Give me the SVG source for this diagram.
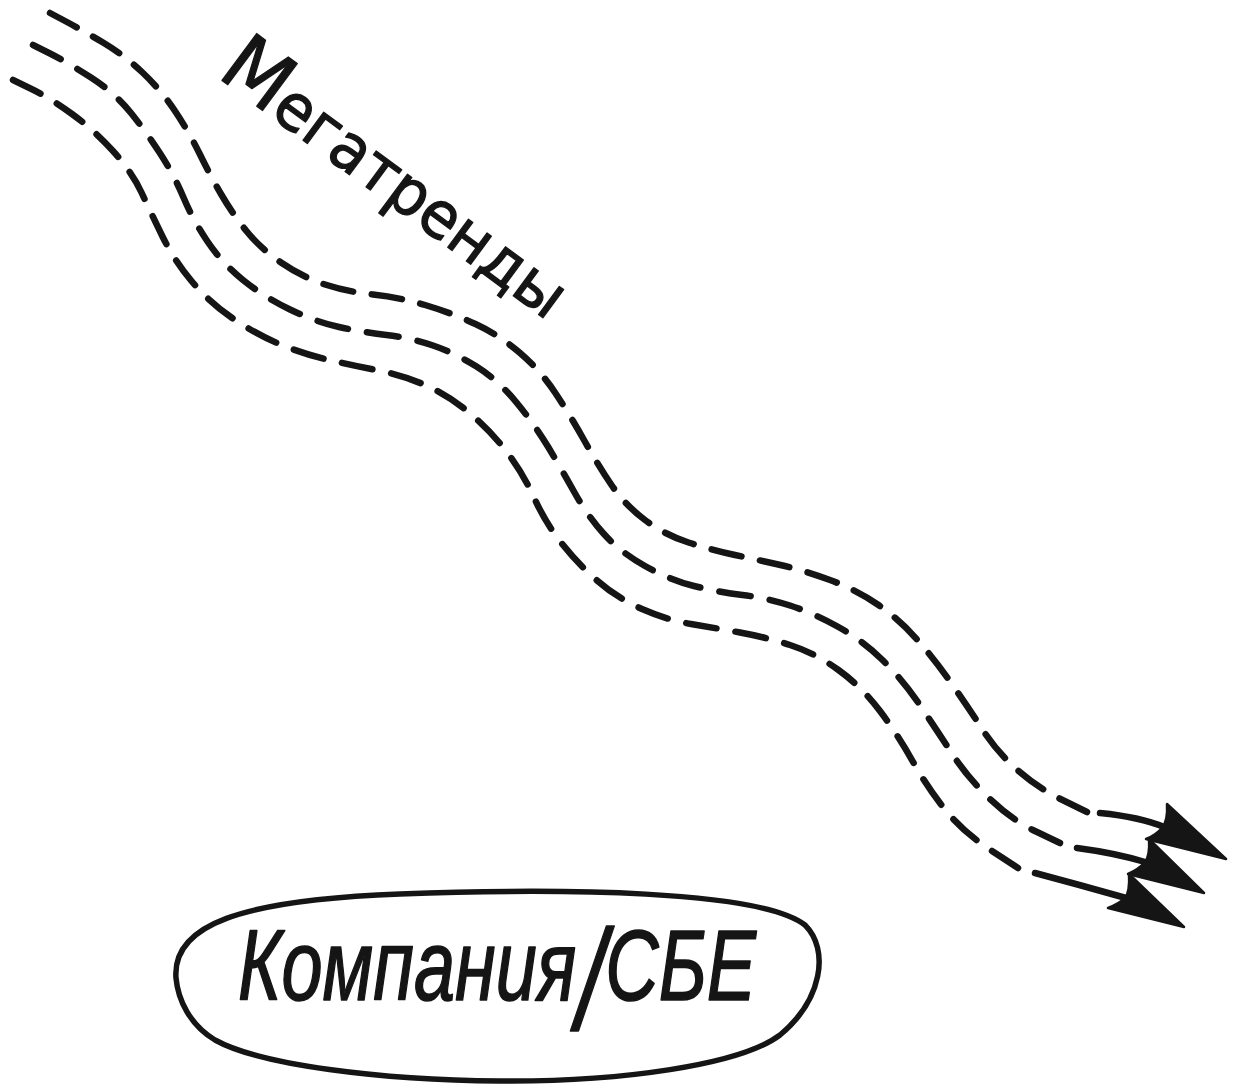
<svg xmlns="http://www.w3.org/2000/svg" width="1233" height="1084" viewBox="0 0 1233 1084">
  <style>
    .flow { fill: none; stroke: #151515; stroke-width: 6.5; stroke-linecap: round; stroke-linejoin: round; }
    .dash { stroke-dasharray: 31 19; }
    .head { fill: #151515; stroke: #151515; stroke-width: 2.5; stroke-linejoin: round; }
    .label { fill: #151515; stroke: #151515; stroke-linejoin: round; }
  </style>

  <!-- three wavy dashed trend streams ending in arrowheads -->
  <g id="connectors">
    <g id="stream-top">
      <path class="flow dash" pathLength="1381" d="M 50,13 L 66,21.5 Q 82,30 103,42.5 Q 124,55 142.5,72.5 Q 161,90 175,111 Q 189,132 199.5,153.5 Q 210,175 221,194 Q 232,213 246,230.5 Q 260,248 281,262.5 Q 302,277 325,284.5 Q 348,292 373,294.5 Q 398,297 425,305 Q 452,313 475.5,324 Q 499,335 519.5,352.5 Q 540,370 555,392.5 Q 570,415 584,440 Q 598,465 611.5,485 Q 625,505 645,520 Q 665,535 688.5,542.5 Q 712,550 735,555 Q 758,560 780.5,565 Q 803,570 830,580 Q 857,590 878.5,605 Q 900,620 917.5,640 Q 935,660 951.5,683.5 Q 968,707 982.5,729.5 Q 997,752 1017.5,770 Q 1038,788 1062.5,800 L 1087,812"/>
      <path class="flow" d="M 1100,813 Q 1140,817 1164,827"/>
      <path class="head" d="M 1226,859 L 1167,804 Q 1168,821 1162,828 Q 1156,835 1146,839 Z"/>
    </g>
    <g id="stream-middle">
      <path class="flow dash" pathLength="1331" d="M 33,45 L 50,53.5 Q 67,62 91,77.5 Q 115,93 131,113 Q 147,133 160.5,154 Q 174,175 183.5,197.5 Q 193,220 207.5,241.5 Q 222,263 243,280 Q 264,297 290,309.5 Q 316,322 339,327 Q 362,332 386.5,335 Q 411,338 433,345.5 Q 455,353 476.5,366.5 Q 498,380 516.5,402.5 Q 535,425 548.5,447.5 Q 562,470 574.5,492.5 Q 587,515 603.5,533.5 Q 620,552 645,566 Q 670,580 694,586 Q 718,592 742.5,595 Q 767,598 790,605.5 Q 813,613 837.5,626.5 Q 862,640 882.5,660 Q 903,680 920.5,706 Q 938,732 953,755 Q 968,778 990,799 Q 1012,820 1036,831.5 L 1060,843"/>
      <path class="flow" d="M 1077,848 Q 1115,853 1145,862"/>
      <path class="head" d="M 1204,893 L 1149,839 Q 1150,856 1145,862 Q 1139,869 1128,874 Z"/>
    </g>
    <g id="stream-bottom">
      <path class="flow dash" pathLength="1331" d="M 13,80 L 31.5,89 Q 50,98 72,114 Q 94,130 113,151 Q 132,172 141.5,192.5 Q 151,213 162.5,236.5 Q 174,260 191.5,281 Q 209,302 231.5,317.5 Q 254,333 277,343 Q 300,353 325,359 Q 350,365 376,370 Q 402,375 425,385 Q 448,395 469,412.5 Q 490,430 506.5,451.5 Q 523,473 534,497.5 Q 545,522 561,542.5 Q 577,563 597,580.5 Q 617,598 642,609 Q 667,620 691,624 Q 715,628 740,632.5 Q 765,637 790,645 Q 815,653 838.5,670 Q 862,687 880,711 Q 898,735 912.5,761 Q 927,787 945,809.5 Q 963,832 990.5,850 L 1018,868"/>
      <path class="flow" d="M 1035,873 Q 1080,885 1126,898"/>
      <path class="head" d="M 1184,927 L 1129,874 Q 1130,892 1125,898 Q 1119,904 1108,908 Z"/>
    </g>
  </g>

  <!-- label running along the streams -->
  <g id="megatrends-label">
    <text class="label" x="216" y="76" transform="rotate(36.5 216 76)" font-family="'DejaVu Sans', sans-serif" font-size="64" stroke-width="1.3" textLength="412" lengthAdjust="spacingAndGlyphs"><tspan font-size="80">М</tspan>егатренды</text>
  </g>

  <!-- company / business unit node -->
  <g id="company-node">
    <path d="M 176,978 C 172,925 240,900 400,894 C 560,888 760,890 805,925 C 830,950 822,1000 780,1035 C 740,1065 620,1082 500,1081 C 380,1080 260,1065 215,1040 C 190,1025 178,1000 176,978 Z" fill="none" stroke="#151515" stroke-width="5.5" stroke-linejoin="round"/>
    <text class="label" x="238" y="1000" font-family="'Liberation Sans', sans-serif" font-style="italic" font-size="100" stroke-width="1.6" textLength="518" lengthAdjust="spacingAndGlyphs">Компания<tspan font-size="142" dy="30">/</tspan><tspan dy="-30">СБЕ</tspan></text>
  </g>
</svg>
